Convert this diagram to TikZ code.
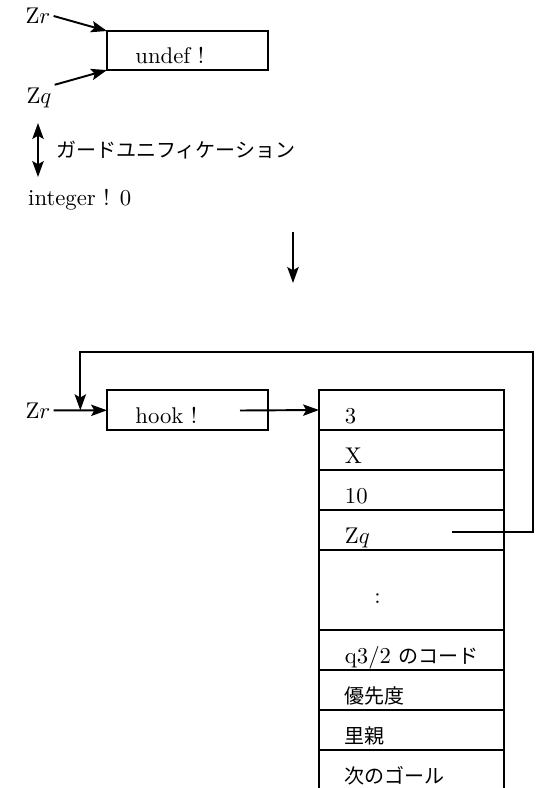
\documentclass[tikz,border=0pt]{standalone}
\usepackage{fontspec}
\newfontfamily\jp{Noto Sans CJK JP}[Scale=0.88]
\usepackage{tikz}
\usetikzlibrary{positioning}
\usetikzlibrary{calc}
\usetikzlibrary{arrows.meta}
\newcommand{\Zr}{$\mathrm{Z}r$}
\newcommand{\Zq}{$\mathrm{Z}q$}

\tikzset{
  lbl/.style={inner sep=1pt},
  cellbox/.style={draw, rectangle, anchor=north west, inner xsep=0pt, inner ysep=0pt,
    outer sep=0pt, text height=11.5pt, text depth=0pt, align=left},
  box/.style={cellbox, text width=70.8pt, minimum height=17.6pt,
    execute at begin node={\hspace*{12.5pt}}},
  row/.style={cellbox, text width=81.4pt, minimum height=17.6pt,
    execute at begin node={\hspace*{11.4pt}}},
}

\begin{document}
\begin{tikzpicture}[x=0.44pt, y=-0.44pt, line width=0.85pt,
    >={Stealth[length=7pt,width=5pt,inset=1.4pt]}]
    \useasboundingbox (0,0) rectangle (544,788);

    % Before: two variables on one undef cell
    \node[box, minimum height=17.2pt] (undef) at (107,31) {undef !};
    \node[lbl] (zr) at (38,16) {\Zr};
    \node[lbl] (zq) at (39,98) {\Zq};
    \draw[->] (zr.east) -- (undef.north west);
    \draw[->] (zq.north east) -- (undef.south west);

    % Guard unification
    \coordinate (gtop) at (38,123);
    \coordinate (gbot) at (38,177);
    \draw[<->] (gtop) -- (gbot);
    \node[lbl, anchor=west] (guard) at (53,150) {\jp ガードユニフィケーション};
    \node[lbl, anchor=west] (intval) at (25,200) {integer ! 0};

    % Step
    \coordinate (dtop) at (293,232);
    \coordinate (dbot) at (293,283);
    \draw[->] (dtop) -- (dbot);

    % After: hook cell
    \node[box] (hook) at (107,390) {hook !};
    \node[lbl] (zrr) at (38,410.5) {\Zr};
    \draw[->] (zrr) -- (hook);

    % Goal record
    \node[row] (r1) at (319,390) {3};
    \node[row, below=0pt of r1] (r2) {X};
    \node[row, below=0pt of r2] (r3) {10};
    \node[row, below=0pt of r3] (r4) {\Zq};
    \node[row, below=0pt of r4, minimum height=35.2pt] (r5) {\hspace*{13pt}:};
    \node[row, below=0pt of r5] (r6) {q3/2 {\jp のコード}};
    \node[row, below=0pt of r6] (r7) {{\jp 優先度}};
    \node[row, below=0pt of r7] (r8) {{\jp 里親}};
    \node[row, below=0pt of r8, draw=none, minimum height=18pt] (r9) {{\jp 次のゴール}};
    \draw (r9.north west) -- (r9.south west) (r9.north east) -- (r9.south east);

    % Pointers
    \coordinate (hookptr) at (240,410.5);
    \draw[->] (hookptr) -- (r1.west);
    \coordinate (zqptr) at (452,532);
    \coordinate (loopne) at (533,352);
    \coordinate (join) at ($(zrr.east)!0.5!(hook.west)$);
    \draw[->] (zqptr) -| (loopne) -| (join);
\end{tikzpicture}
\end{document}
